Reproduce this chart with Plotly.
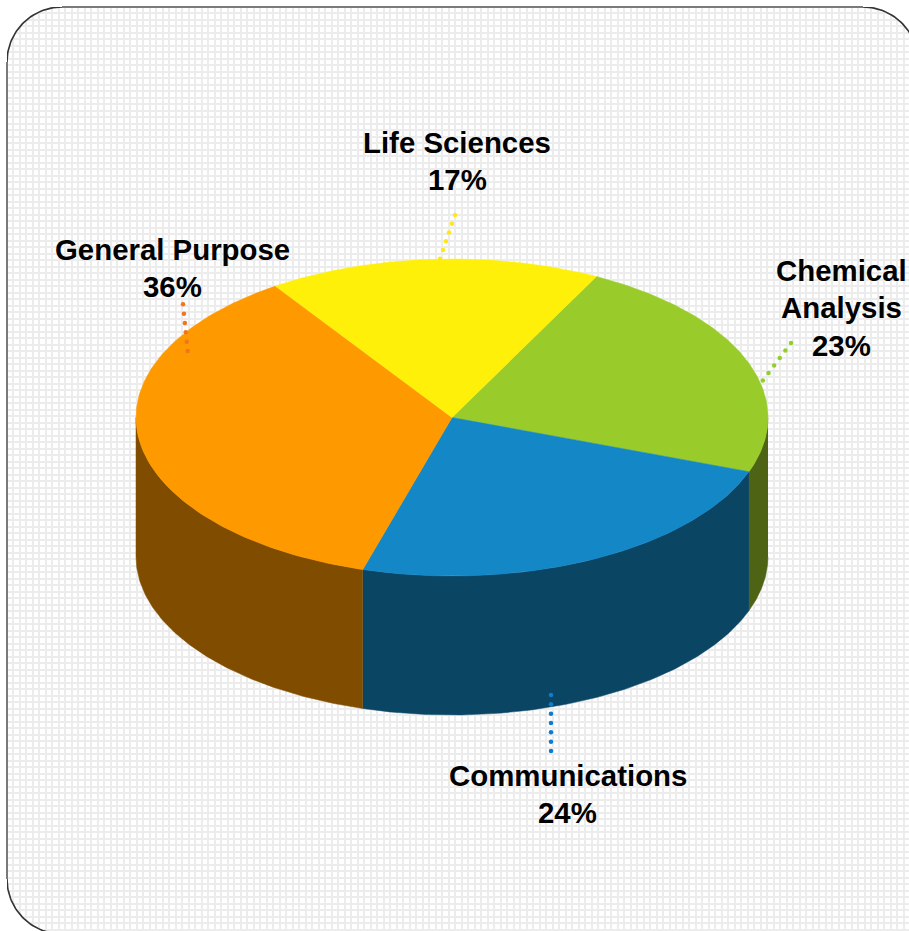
import numpy as np
import plotly.graph_objects as go

# ---- data ----
categories = ["Chemical Analysis", "Communications", "General Purpose", "Life Sciences"]
shares = [23, 24, 36, 17]

# ---- style and layout ----
top_colors = ["#99CC2A", "#1487C7", "#FF9900", "#FFF00A"]
wall_colors = ["#4E6414", "#0A4564", "#804D00", "#807805"]
dot_colors = ["#92CF2A", "#0B7CD0", "#F27420", "#FFE71A"]
W, H = 909, 931
CX, CY, RX, RY, DEPTH = 452, 417.5, 316, 158.5, 139
START = 27.2
label_lines = [["Chemical", "Analysis"], ["Communications"], ["General Purpose"], ["Life Sciences"]]
label_x = [841.5, 567.5, 172, 457]
label_y = [270, 775, 249, 142]
line_gap = 37.5
leader_from = [(791, 343), (551, 695), (183, 304.3), (455, 215)]
leader_to = [(746, 403), (551, 751), (187.7, 351), (440, 258.7)]
leader_n = [9, 7, 6, 6]
FONT = "Liberation Sans"


def ell(a_deg, dy=0.0):
    a = np.radians(a_deg)
    return CX + RX * np.sin(a), CY - RY * np.cos(a) + dy


fig = go.Figure()

# panel corners and border
PL, PT, PR, PB, R = 7, 7, 918, 934, 55


def corner(cx, cy, a0, a1):
    a = np.radians(np.linspace(a0, a1, 40))
    return cx + R * np.cos(a), cy + R * np.sin(a)


corners = [
    (PL + R, PT + R, 180, 270, (0, 0)),
    (PR - R, PT + R, 270, 360, (W + 20, 0)),
    (PL + R, PB - R, 90, 180, (0, H + 20)),
]
for cx, cy, a0, a1, out in corners:
    x, y = corner(cx, cy, a0, a1)
    fig.add_trace(go.Scatter(
        x=list(x) + [out[0]], y=list(y) + [out[1]], fill="toself",
        fillcolor="white", mode="none", hoverinfo="skip", showlegend=False))
    fig.add_trace(go.Scatter(
        x=x, y=y, mode="lines", line=dict(color="#333333", width=1.6),
        hoverinfo="skip", showlegend=False))
for xs, ys in [([-5, PL, PL, -5], [-5, -5, H + 5, H + 5]),
               ([-5, W + 5, W + 5, -5], [-5, -5, PT, PT])]:
    fig.add_trace(go.Scatter(x=xs, y=ys, fill="toself", fillcolor="white",
                             mode="none", hoverinfo="skip", showlegend=False))
for xs, ys in [([PL, PL], [PT + R, PB - R]), ([PL + R, PR - R], [PT, PT])]:
    fig.add_trace(go.Scatter(x=xs, y=ys, mode="lines",
                             line=dict(color="#7a7a7a", width=2),
                             hoverinfo="skip", showlegend=False))

# slice angles from the values
total = sum(shares)
edges = START + np.cumsum([0] + [360.0 * s / total for s in shares])

# visible front walls
for i in range(len(shares)):
    a0, a1 = max(edges[i], 90), min(edges[i + 1], 270)
    if a1 <= a0:
        continue
    a = np.linspace(a0, a1, 120)
    xt, yt = ell(a)
    xb, yb = ell(a[::-1], DEPTH)
    fig.add_trace(go.Scatter(
        x=np.r_[xt, xb], y=np.r_[yt, yb], fill="toself", mode="lines",
        line=dict(color=wall_colors[i], width=0.5),
        fillcolor=wall_colors[i], hoverinfo="skip", showlegend=False))

# top faces
for i, c in enumerate(categories):
    a = np.linspace(edges[i], edges[i + 1], 160)
    xt, yt = ell(a)
    fig.add_trace(go.Scatter(
        x=np.r_[CX, xt, CX], y=np.r_[CY, yt, CY], fill="toself", mode="lines",
        line=dict(color=top_colors[i], width=0.5), fillcolor=top_colors[i],
        name=c, hoverinfo="skip", showlegend=False))

# dotted leaders
for i in range(len(shares)):
    fig.add_trace(go.Scatter(
        x=np.linspace(leader_from[i][0], leader_to[i][0], leader_n[i]),
        y=np.linspace(leader_from[i][1], leader_to[i][1], leader_n[i]),
        mode="markers", marker=dict(color=dot_colors[i], size=4.5),
        hoverinfo="skip", showlegend=False))

# labels
annotations = []
for i, s in enumerate(shares):
    for j, text in enumerate(label_lines[i] + [f"{s}%"]):
        annotations.append(dict(
            x=label_x[i], y=label_y[i] + j * line_gap, text=f"<b>{text}</b>",
            showarrow=False, xanchor="center", yanchor="middle",
            font=dict(family=FONT, size=29.4, color="black")))

axis = dict(showticklabels=False, ticks="", zeroline=False, showline=False,
            showgrid=True, gridcolor="#ececec", gridwidth=2, tick0=0, dtick=6.5)
fig.update_layout(
    width=W, height=H, margin=dict(l=0, r=0, t=0, b=0),
    paper_bgcolor="white", plot_bgcolor="white", showlegend=False,
    xaxis=dict(range=[0, W], **axis),
    yaxis=dict(range=[H, 0], **axis),
    annotations=annotations,
)
fig.write_html(
    "out.html",
    config=dict(displayModeBar=False),
    post_script="document.body.style.margin='0';document.documentElement.style.overflow='hidden';",
)
